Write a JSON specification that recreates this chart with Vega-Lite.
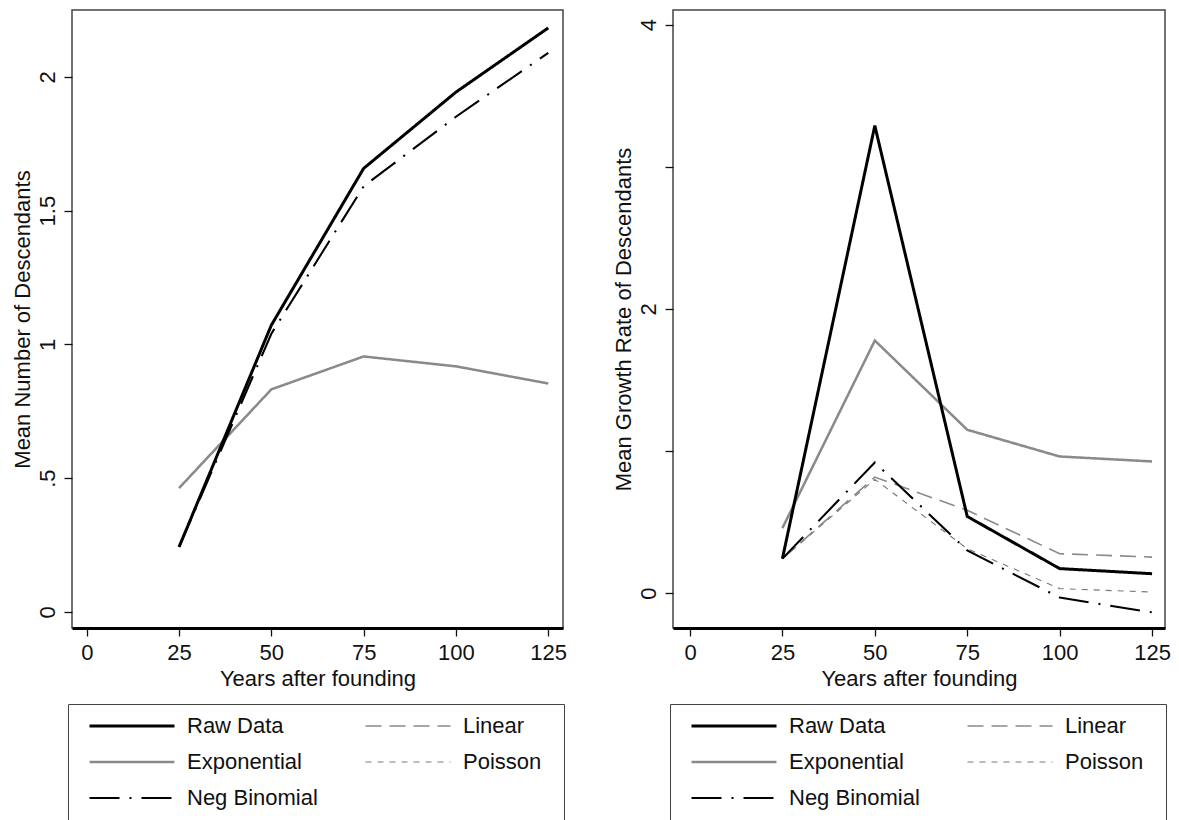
{
  "$schema": "https://vega.github.io/schema/vega-lite/v6.json",
  "padding": {"left": 10, "top": 9, "right": 8, "bottom": 0},
  "background": "white",
  "config": {
    "font": "Liberation Sans",
    "view": {"stroke": "#444", "strokeWidth": 1.5},
    "axis": {
      "grid": false,
      "labelFont": "Liberation Sans", "labelFontSize": 22, "labelColor": "#111",
      "titleFont": "Liberation Sans", "titleFontSize": 22, "titleFontWeight": "normal", "titleColor": "#111",
      "tickColor": "#111", "tickSize": 8, "tickWidth": 1.3
    },
    "legend": {
      "orient": "none", "legendY": 694, "columns": 2, "symbolType": "stroke", "symbolSize": 7225,
      "clipHeight": 36, "rowPadding": 0, "columnPadding": 30, "labelOffset": 11, "symbolOffset": 16,
      "padding": 4, "strokeColor": "#444", "labelFontSize": 22, "labelFont": "Liberation Sans", "labelColor": "#111",
      "titleOrient": "right", "titleFontSize": 22, "titlePadding": 19
    }
  },
  "datasets": {
    "number": [
      {"series": "Exponential", "year": 25, "value": 0.463},
      {"series": "Exponential", "year": 50, "value": 0.832},
      {"series": "Exponential", "year": 75, "value": 0.955},
      {"series": "Exponential", "year": 100, "value": 0.918},
      {"series": "Exponential", "year": 125, "value": 0.854},
      {"series": "Linear", "year": 25, "value": 0.243},
      {"series": "Linear", "year": 50, "value": 1.072},
      {"series": "Linear", "year": 75, "value": 1.658},
      {"series": "Linear", "year": 100, "value": 1.943},
      {"series": "Linear", "year": 125, "value": 2.183},
      {"series": "Poisson", "year": 25, "value": 0.243},
      {"series": "Poisson", "year": 50, "value": 1.072},
      {"series": "Poisson", "year": 75, "value": 1.658},
      {"series": "Poisson", "year": 100, "value": 1.943},
      {"series": "Poisson", "year": 125, "value": 2.183},
      {"series": "Neg Binomial", "year": 25, "value": 0.243},
      {"series": "Neg Binomial", "year": 50, "value": 1.04},
      {"series": "Neg Binomial", "year": 75, "value": 1.591},
      {"series": "Neg Binomial", "year": 100, "value": 1.851},
      {"series": "Neg Binomial", "year": 125, "value": 2.09},
      {"series": "Raw Data", "year": 25, "value": 0.243},
      {"series": "Raw Data", "year": 50, "value": 1.072},
      {"series": "Raw Data", "year": 75, "value": 1.658},
      {"series": "Raw Data", "year": 100, "value": 1.943},
      {"series": "Raw Data", "year": 125, "value": 2.183}
    ],
    "growth": [
      {"series": "Exponential", "year": 25, "value": 0.457},
      {"series": "Exponential", "year": 50, "value": 1.777},
      {"series": "Exponential", "year": 75, "value": 1.149},
      {"series": "Exponential", "year": 100, "value": 0.961},
      {"series": "Exponential", "year": 125, "value": 0.926},
      {"series": "Linear", "year": 25, "value": 0.242},
      {"series": "Linear", "year": 50, "value": 0.816},
      {"series": "Linear", "year": 75, "value": 0.582},
      {"series": "Linear", "year": 100, "value": 0.277},
      {"series": "Linear", "year": 125, "value": 0.253},
      {"series": "Poisson", "year": 25, "value": 0.242},
      {"series": "Poisson", "year": 50, "value": 0.8},
      {"series": "Poisson", "year": 75, "value": 0.312},
      {"series": "Poisson", "year": 100, "value": 0.031},
      {"series": "Poisson", "year": 125, "value": 0.007},
      {"series": "Neg Binomial", "year": 25, "value": 0.242},
      {"series": "Neg Binomial", "year": 50, "value": 0.919},
      {"series": "Neg Binomial", "year": 75, "value": 0.3},
      {"series": "Neg Binomial", "year": 100, "value": -0.032},
      {"series": "Neg Binomial", "year": 125, "value": -0.136},
      {"series": "Raw Data", "year": 25, "value": 0.242},
      {"series": "Raw Data", "year": 50, "value": 3.289},
      {"series": "Raw Data", "year": 75, "value": 0.539},
      {"series": "Raw Data", "year": 100, "value": 0.172},
      {"series": "Raw Data", "year": 125, "value": 0.136}
    ]
  },
  "spacing": 43,
  "resolve": {"legend": {"color": "independent", "strokeDash": "independent", "strokeWidth": "independent"}},
  "hconcat": [
    {
      "width": 491, "height": 618,
      "data": {"name": "number"},
      "mark": {"type": "line", "strokeJoin": "miter", "strokeCap": "butt"},
      "encoding": {
        "x": {"field": "year", "type": "quantitative", "scale": {"domain": [-4, 129], "nice": false, "zero": false},
              "axis": {"values": [0, 25, 50, 75, 100, 125], "title": "Years after founding", "domainColor": "#000", "domainWidth": 3, "labelPadding": 6, "titlePadding": 5}},
        "y": {"field": "value", "type": "quantitative", "scale": {"domain": [-0.06, 2.25], "nice": false, "zero": false},
              "axis": {"values": [0, 0.5, 1, 1.5, 2], "format": ".1~f", "labelExpr": "datum.value == 0.5 ? '.5' : datum.label", "labelAngle": 270, "labelAlign": "center", "labelBaseline": "bottom", "labelPadding": 5, "title": "Mean Number of Descendants", "titlePadding": 2, "domain": false}},
        "color": {"field": "series", "type": "nominal", "scale": {"domain": ["Raw Data", "Exponential", "Neg Binomial", "Linear", "Poisson"], "range": ["#000000", "#8a8a8a", "#000000", "#8a8a8a", "#7a7a7a"]},
                  "legend": {"title": " ", "legendX": -4}},
        "strokeDash": {"field": "series", "type": "nominal", "scale": {"domain": ["Raw Data", "Exponential", "Neg Binomial", "Linear", "Poisson"], "range": [[1, 0], [1, 0], [30, 10, 2, 10], [16, 8], [6, 6]]},
                  "legend": {"title": " ", "legendX": -4}},
        "strokeWidth": {"field": "series", "type": "nominal", "scale": {"domain": ["Raw Data", "Exponential", "Neg Binomial", "Linear", "Poisson"], "range": [3, 1.15, 1.5, 1.3, 1.3]},
                  "legend": {"title": " ", "legendX": -4}}
      }
    },
    {
      "width": 492, "height": 618,
      "data": {"name": "growth"},
      "mark": {"type": "line", "strokeJoin": "miter", "strokeCap": "butt"},
      "encoding": {
        "x": {"field": "year", "type": "quantitative", "scale": {"domain": [-4.6, 128.5], "nice": false, "zero": false},
              "axis": {"values": [0, 25, 50, 75, 100, 125], "title": "Years after founding", "domainColor": "#000", "domainWidth": 3, "labelPadding": 6, "titlePadding": 5}},
        "y": {"field": "value", "type": "quantitative", "scale": {"domain": [-0.246, 4.103], "nice": false, "zero": false},
              "axis": {"values": [0, 1, 2, 3, 4], "labelExpr": "datum.value % 2 == 0 ? datum.label : ''", "labelAngle": 270, "labelAlign": "center", "labelBaseline": "bottom", "labelPadding": 5, "title": "Mean Growth Rate of Descendants", "titlePadding": 2, "domain": false}},
        "color": {"field": "series", "type": "nominal", "scale": {"domain": ["Raw Data", "Exponential", "Neg Binomial", "Linear", "Poisson"], "range": ["#000000", "#8a8a8a", "#000000", "#8a8a8a", "#7a7a7a"]},
                  "legend": {"title": " ", "legendX": -3}},
        "strokeDash": {"field": "series", "type": "nominal", "scale": {"domain": ["Raw Data", "Exponential", "Neg Binomial", "Linear", "Poisson"], "range": [[1, 0], [1, 0], [30, 10, 2, 10], [16, 8], [6, 6]]},
                  "legend": {"title": " ", "legendX": -3}},
        "strokeWidth": {"field": "series", "type": "nominal", "scale": {"domain": ["Raw Data", "Exponential", "Neg Binomial", "Linear", "Poisson"], "range": [3, 1.15, 1.5, 1.3, 1.3]},
                  "legend": {"title": " ", "legendX": -3}}
      }
    }
  ]
}
